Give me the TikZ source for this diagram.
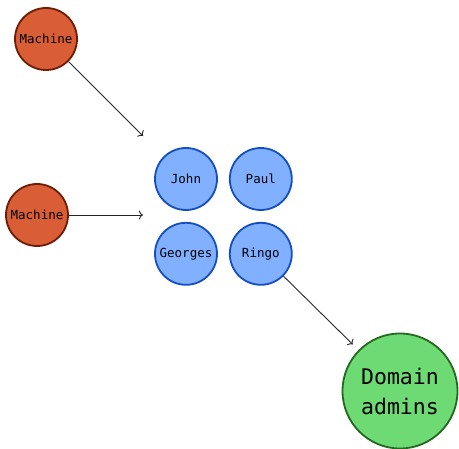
\documentclass[tikz,border=0pt]{standalone}
\usepackage{fontspec}
\setmonofont{DejaVu Sans Mono}
\usetikzlibrary{arrows.meta,calc,fit,positioning}

\definecolor{machinefill}{RGB}{217,94,54}
\definecolor{machinedraw}{RGB}{110,28,5}
\definecolor{userfill}{RGB}{128,176,255}
\definecolor{userdraw}{RGB}{20,78,192}
\definecolor{adminfill}{RGB}{110,218,115}
\definecolor{admindraw}{RGB}{35,105,32}

\begin{document}
\begin{tikzpicture}[
  x=1pt, y=-1pt,
  node distance=11pt,
  machine/.style={circle, draw=machinedraw, fill=machinefill, line width=1.8pt,
    minimum size=62pt, inner sep=0pt, font=\ttfamily\fontsize{12.5}{15}\selectfont},
  user/.style={circle, draw=userdraw, fill=userfill, line width=1.8pt,
    minimum size=62pt, inner sep=0pt, font=\ttfamily\fontsize{12.5}{15}\selectfont},
  admin/.style={circle, draw=admindraw, fill=adminfill, line width=1.8pt,
    minimum size=115pt, inner sep=0pt, align=center,
    font=\ttfamily\fontsize{21.5}{30}\selectfont},
  link/.style={-{To[length=4pt,width=9pt]}, line width=0.9pt, black!85}
  ]
  \useasboundingbox (0,0) rectangle (459,449);

  \node[machine] (M1) at (46,39) {Machine};
  \node[machine] (M2) at (37,215) {Machine};

  \node[user] (John) at (186,179) {John};
  \node[user, right=of John] (Paul) {Paul};
  \node[user, below=of John] (Georges) {Georges};
  \node[user, below=of Paul] (Ringo) {Ringo};

  \node[fit=(John)(Paul)(Georges)(Ringo), inner sep=11pt] (team) {};

  \node[admin] (DA) at (400,391) {Domain\\admins};

  \draw[link] (M1) -- (team);
  \draw[link] (M2) -- (M2 -| team.west);
  \draw[link, shorten >=8pt] (Ringo) -- (DA);

\end{tikzpicture}
\end{document}
